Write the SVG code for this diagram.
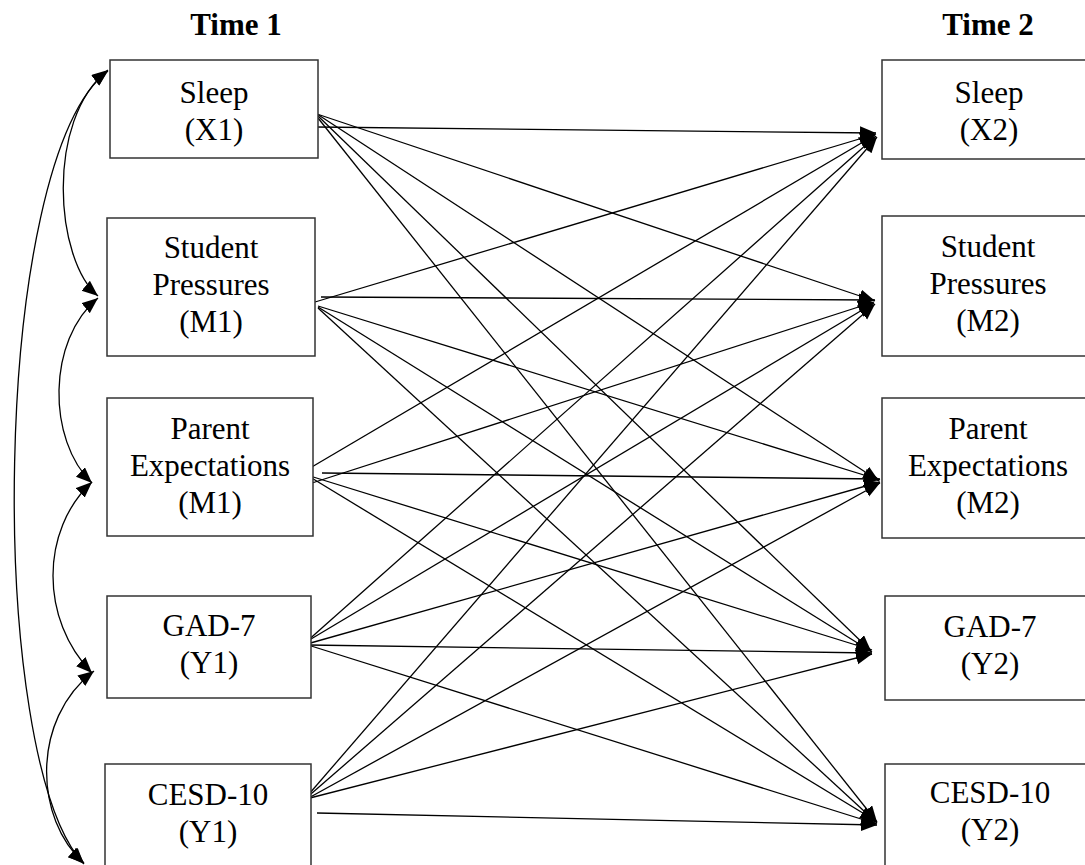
<svg xmlns="http://www.w3.org/2000/svg" width="1085" height="865" viewBox="0 0 1085 865">
<style>
.box{fill:#fff;stroke:#333;stroke-width:1.5}
.t{font-family:"Liberation Serif","Times New Roman",serif;font-size:31px;fill:#000;text-anchor:middle}
.h{font-family:"Liberation Serif","Times New Roman",serif;font-size:31px;font-weight:bold;fill:#000;text-anchor:middle}
.c{fill:none;stroke:#000;stroke-width:1.3}
</style>
<defs>
<marker id="ah" markerUnits="userSpaceOnUse" markerWidth="17" markerHeight="14" refX="16" refY="6.5" orient="auto-start-reverse">
<path d="M0,0 L16,6.5 L0,13 z" fill="#000"/>
</marker>
</defs>
<text class="h" x="236" y="35">Time 1</text>
<text class="h" x="988" y="35">Time 2</text>

<g id="connectors">
<!-- covariance curves -->
<path class="c" d="M98,296 C55,260 45,120 108,70" marker-start="url(#ah)" marker-end="url(#ah)"/>
<path class="c" d="M98,298 C47,340 47,440 92,483" marker-start="url(#ah)" marker-end="url(#ah)"/>
<path class="c" d="M92,482 C40,530 40,620 92,673" marker-start="url(#ah)" marker-end="url(#ah)"/>
<path class="c" d="M94,671 C30,720 35,820 84,863" marker-start="url(#ah)" marker-end="url(#ah)"/>
<path class="c" d="M108,71 C-10,160 -15,760 84,864" marker-start="url(#ah)" marker-end="url(#ah)"/>
<!-- paths from Sleep X1 -->
<line class="c" x1="316" y1="127" x2="876" y2="133" marker-end="url(#ah)"/>
<line class="c" x1="317" y1="114" x2="875" y2="301" marker-end="url(#ah)"/>
<line class="c" x1="317" y1="114" x2="879" y2="481" marker-end="url(#ah)"/>
<line class="c" x1="318" y1="116" x2="871" y2="651" marker-end="url(#ah)"/>
<line class="c" x1="318" y1="118" x2="877" y2="822" marker-end="url(#ah)"/>
<!-- paths from Student Pressures M1 -->
<line class="c" x1="315" y1="302" x2="876" y2="134" marker-end="url(#ah)"/>
<line class="c" x1="321" y1="297" x2="875" y2="300" marker-end="url(#ah)"/>
<line class="c" x1="318" y1="306" x2="880" y2="480" marker-end="url(#ah)"/>
<line class="c" x1="318" y1="307" x2="872" y2="652" marker-end="url(#ah)"/>
<line class="c" x1="318" y1="308" x2="877" y2="823" marker-end="url(#ah)"/>
<!-- paths from Parent Expectations M1 -->
<line class="c" x1="305" y1="471" x2="875" y2="135" marker-end="url(#ah)"/>
<line class="c" x1="312" y1="483" x2="874" y2="302" marker-end="url(#ah)"/>
<line class="c" x1="322" y1="473" x2="880" y2="479" marker-end="url(#ah)"/>
<line class="c" x1="310" y1="476" x2="872" y2="650" marker-end="url(#ah)"/>
<line class="c" x1="310" y1="477" x2="876" y2="821" marker-end="url(#ah)"/>
<!-- paths from GAD-7 Y1 -->
<line class="c" x1="305" y1="643" x2="876" y2="136" marker-end="url(#ah)"/>
<line class="c" x1="306" y1="642" x2="874" y2="303" marker-end="url(#ah)"/>
<line class="c" x1="307" y1="644" x2="880" y2="482" marker-end="url(#ah)"/>
<line class="c" x1="308" y1="645" x2="872" y2="653" marker-end="url(#ah)"/>
<line class="c" x1="308" y1="645" x2="877" y2="824" marker-end="url(#ah)"/>
<!-- paths from CESD-10 Y1 -->
<line class="c" x1="303" y1="801" x2="877" y2="137" marker-end="url(#ah)"/>
<line class="c" x1="304" y1="800" x2="875" y2="304" marker-end="url(#ah)"/>
<line class="c" x1="305" y1="800" x2="880" y2="483" marker-end="url(#ah)"/>
<line class="c" x1="306" y1="799" x2="872" y2="654" marker-end="url(#ah)"/>
<line class="c" x1="317" y1="813" x2="877" y2="825" marker-end="url(#ah)"/>
</g>

<g id="sleep1"><rect class="box" x="110" y="60" width="208" height="98"/><text class="t" x="214" y="103">Sleep</text><text class="t" x="214" y="140">(X1)</text></g>
<g id="sp1"><rect class="box" x="107" y="218" width="208" height="138"/><text class="t" x="211" y="258">Student</text><text class="t" x="211" y="295">Pressures</text><text class="t" x="211" y="332">(M1)</text></g>
<g id="pe1"><rect class="box" x="107" y="398" width="206" height="138"/><text class="t" x="210" y="439">Parent</text><text class="t" x="210" y="476">Expectations</text><text class="t" x="210" y="513">(M1)</text></g>
<g id="gad1"><rect class="box" x="107" y="596" width="204" height="102"/><text class="t" x="209" y="636">GAD-7</text><text class="t" x="209" y="673">(Y1)</text></g>
<g id="cesd1"><rect class="box" x="105" y="764" width="206" height="110"/><text class="t" x="208" y="805">CESD-10</text><text class="t" x="208" y="842">(Y1)</text></g>

<g id="sleep2"><rect class="box" x="882" y="60" width="214" height="99"/><text class="t" x="989" y="103">Sleep</text><text class="t" x="989" y="140">(X2)</text></g>
<g id="sp2"><rect class="box" x="882" y="216" width="214" height="140"/><text class="t" x="988" y="257">Student</text><text class="t" x="988" y="294">Pressures</text><text class="t" x="988" y="331">(M2)</text></g>
<g id="pe2"><rect class="box" x="882" y="398" width="214" height="140"/><text class="t" x="988" y="439">Parent</text><text class="t" x="988" y="476">Expectations</text><text class="t" x="988" y="513">(M2)</text></g>
<g id="gad2"><rect class="box" x="885" y="596" width="214" height="104"/><text class="t" x="990" y="637">GAD-7</text><text class="t" x="990" y="674">(Y2)</text></g>
<g id="cesd2"><rect class="box" x="885" y="764" width="214" height="110"/><text class="t" x="990" y="803">CESD-10</text><text class="t" x="990" y="840">(Y2)</text></g>
</svg>
